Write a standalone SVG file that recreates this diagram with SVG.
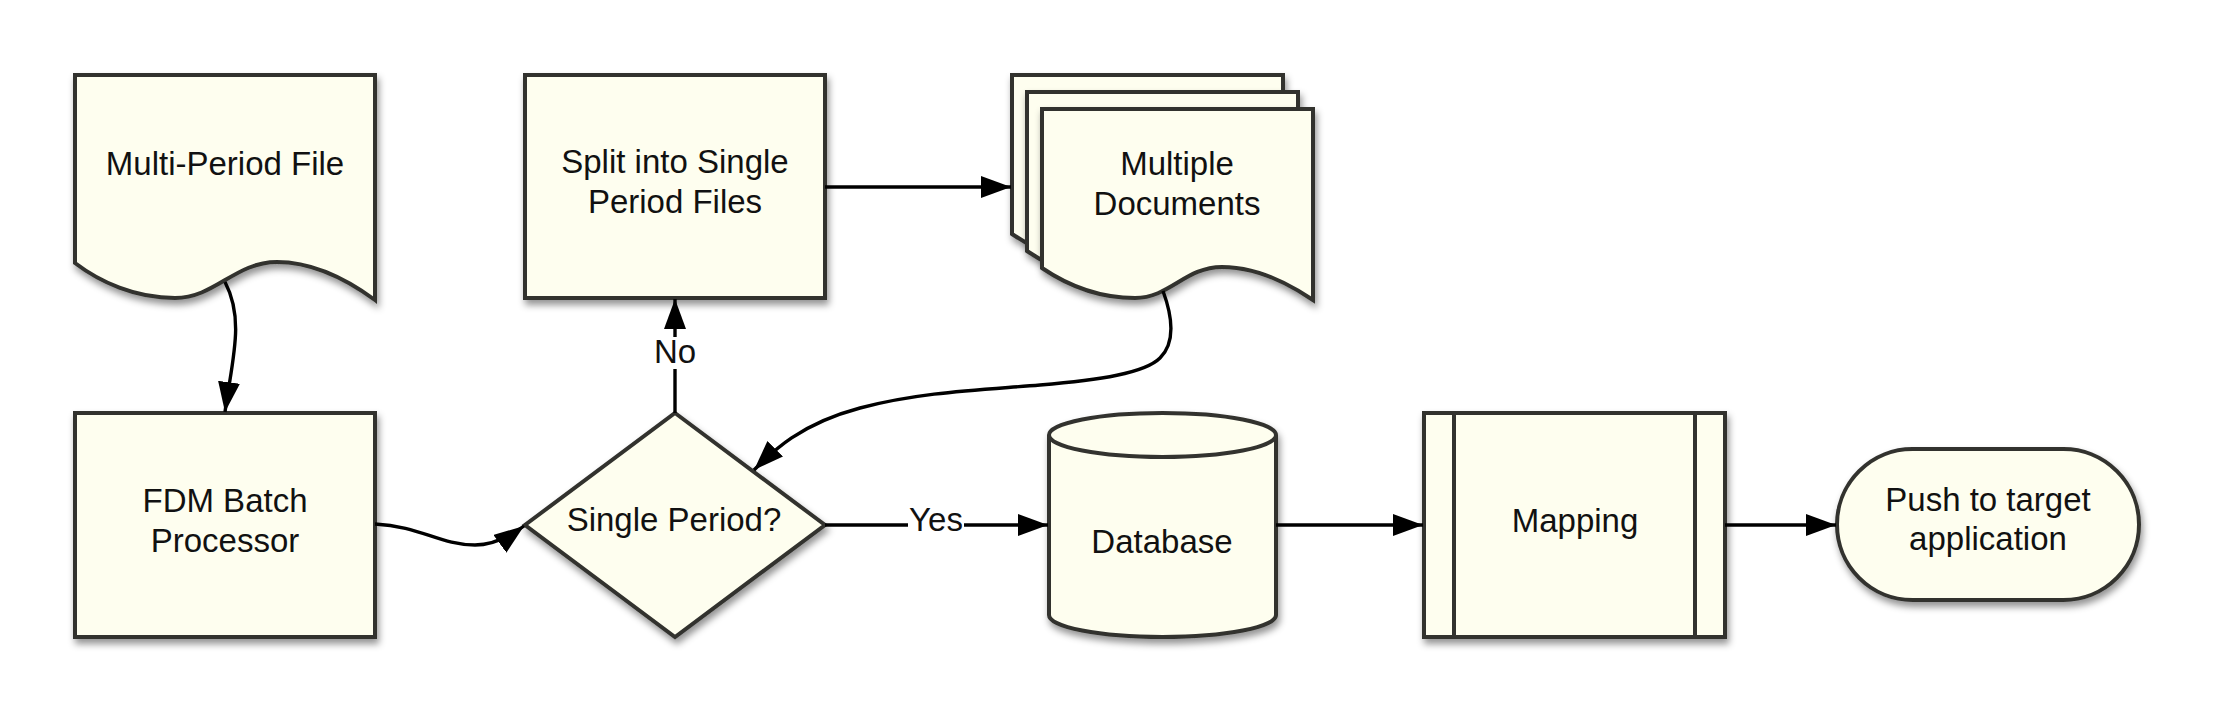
<svg xmlns="http://www.w3.org/2000/svg" width="2213" height="713" viewBox="0 0 2213 713">
<defs>
<style>
.shape{fill:#fefeef;stroke:#33332f;stroke-width:4;stroke-linejoin:miter;filter:url(#sh)}
.inner{fill:none;stroke:#33332f;stroke-width:4}
.lbl{font-family:"Liberation Sans",Arial,sans-serif;font-size:33px;fill:#111;text-anchor:middle}
.conn{fill:none;stroke:#000;stroke-width:3.4}
.arr{marker-end:url(#ah)}
.bg{fill:#fff;stroke:none}
</style>
<filter id="sh" x="-10%" y="-10%" width="130%" height="130%">
<feDropShadow dx="2" dy="5" stdDeviation="3.5" flood-color="#000" flood-opacity="0.42"/>
</filter>
<marker id="ah" markerUnits="userSpaceOnUse" markerWidth="31" markerHeight="23" refX="30" refY="11" orient="auto" viewBox="0 0 31 23">
<path d="M0,0 L30,11 L0,22 Z" fill="#000"/>
</marker>
</defs>
<rect width="2213" height="713" fill="#fff"/>

<g id="multi-period-file">
<path class="shape" d="M75,75 H375 V300 C345,278 310,262 277,262 C235,262 215,298 175,298 C135,298 100,282 75,263 Z"/>
<text class="lbl" x="225" y="175">Multi-Period File</text>
</g>

<g id="split-files">
<rect class="shape" x="525" y="75" width="300" height="223"/>
<text class="lbl" x="675" y="173">Split into Single</text>
<text class="lbl" x="675" y="213">Period Files</text>
</g>

<g id="multiple-documents">
<path class="shape" d="M1012,75 H1283 V266 C1255,247 1225,233 1192,233 C1155,233 1140,264 1105,264 C1070,264 1040,253 1012,234 Z"/>
<path class="shape" d="M1027,92 H1298 V283 C1270,264 1240,250 1207,250 C1170,250 1155,281 1120,281 C1085,281 1055,270 1027,251 Z"/>
<path class="shape" d="M1042,109 H1313 V300 C1285,281 1255,267 1222,267 C1185,267 1170,298 1135,298 C1100,298 1070,287 1042,268 Z"/>
<text class="lbl" x="1177" y="175">Multiple</text>
<text class="lbl" x="1177" y="215">Documents</text>
</g>

<g id="fdm-batch-processor">
<rect class="shape" x="75" y="413" width="300" height="224"/>
<text class="lbl" x="225" y="512">FDM Batch</text>
<text class="lbl" x="225" y="552">Processor</text>
</g>

<g id="single-period">
<path class="shape" d="M675,413 L825,525 L675,637 L525,525 Z"/>
<text class="lbl" x="674" y="531">Single Period?</text>
</g>

<g id="database">
<path class="shape" d="M1049,435 A113.5,22 0 0 1 1276,435 V615 A113.5,22 0 0 1 1049,615 Z"/>
<path class="inner" d="M1049,435 A113.5,22 0 0 0 1276,435"/>
<text class="lbl" x="1162" y="553">Database</text>
</g>

<g id="mapping">
<rect class="shape" x="1424" y="413" width="301" height="224"/>
<line class="inner" x1="1454" y1="413" x2="1454" y2="637"/>
<line class="inner" x1="1695" y1="413" x2="1695" y2="637"/>
<text class="lbl" x="1575" y="532">Mapping</text>
</g>

<g id="push-to-target">
<rect class="shape" x="1837" y="449" width="302" height="151" rx="75.5" ry="75.5"/>
<text class="lbl" x="1988" y="511">Push to target</text>
<text class="lbl" x="1988" y="550">application</text>
</g>

<g id="connectors">
<path class="conn arr" d="M225,282 C245,320 232,360 225,412"/>
<path class="conn arr" d="M375,524 C420,526 440,545 475,545 C490,545 505,540 524,526"/>
<path class="conn arr" d="M675,413 V299"/>
<path class="conn arr" d="M825,187 H1011"/>
<path class="conn arr" d="M1163,291 C1170,310 1178,340 1160,358 C1145,373 1100,380 1040,385 C980,390 920,392 860,408 C800,424 773,451 754,470"/>
<path class="conn arr" d="M825,525 H1048"/>
<path class="conn arr" d="M1276,525 H1423"/>
<path class="conn arr" d="M1725,525 H1836"/>
<rect class="bg" x="908" y="505" width="56" height="36"/>
<text class="lbl" x="936" y="531">Yes</text>
<rect class="bg" x="653" y="337" width="44" height="32"/>
<text class="lbl" x="675" y="363">No</text>
</g>
</svg>
